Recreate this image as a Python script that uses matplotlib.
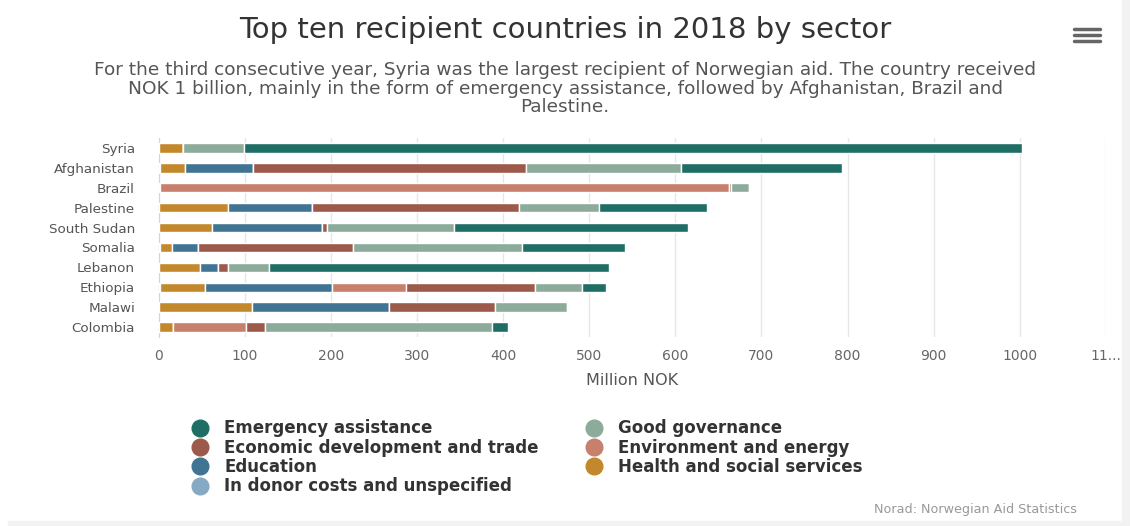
import matplotlib
matplotlib.use("Agg")
import matplotlib.pyplot as plt
from matplotlib.lines import Line2D
from matplotlib.patches import Rectangle

countries = ["Syria", "Afghanistan", "Brazil", "Palestine", "South Sudan",
             "Somalia", "Lebanon", "Ethiopia", "Malawi", "Colombia"]

# million NOK per sector
donor_costs = [0, 2, 2, 0, 0, 2, 0, 2, 0, 0]
health = [28, 29, 0, 80, 62, 14, 48, 52, 108, 17]
education = [0, 79, 0, 98, 128, 30, 21, 147, 160, 0]
environment = [0, 0, 660, 0, 0, 0, 0, 86, 0, 85]
economic = [0, 316, 3, 240, 5, 180, 12, 150, 123, 21]
governance = [71, 180, 20, 93, 148, 196, 47, 55, 83, 264]
emergency = [903, 187, 0, 126, 272, 120, 395, 27, 0, 19]

# drawn from zero outwards
series = [
    ("In donor costs and unspecified", donor_costs, "#86a9c4"),
    ("Health and social services", health, "#c4882c"),
    ("Education", education, "#417493"),
    ("Environment and energy", environment, "#c6806c"),
    ("Economic development and trade", economic, "#9c5a4a"),
    ("Good governance", governance, "#8cab9b"),
    ("Emergency assistance", emergency, "#1f6e66"),
]

fig = plt.figure(figsize=(11.3, 5.26), dpi=100)
ax = fig.add_axes([158.6 / 1130, 1 - 337 / 526, (1106 - 158.6) / 1130, 199 / 526])

y = list(range(len(countries)))
left = [0] * len(countries)
for name, vals, col in series:
    ax.barh(y, vals, left=left, height=0.47, color=col, edgecolor="white",
            linewidth=1, label=name, zorder=3)
    left = [a + b for a, b in zip(left, vals)]

ax.set_xlim(0, 1100)
ax.set_ylim(9.5, -0.5)
ax.set_yticks(y)
ax.set_yticklabels(countries, fontsize=9.7, color="#555555")
ticks = list(range(0, 1101, 100))
ax.set_xticks(ticks)
ax.set_xticklabels([str(t) for t in ticks[:-1]] + ["11..."], fontsize=10, color="#666666")
ax.tick_params(length=0, pad=9)
ax.tick_params(axis="y", pad=17)
ax.set_xlabel("Million NOK", fontsize=11.5, color="#555555", labelpad=7)
ax.grid(axis="x", color="#e6e6e6", linewidth=1, zorder=0)
for s in ["top", "right", "bottom"]:
    ax.spines[s].set_visible(False)
ax.spines["left"].set_color("#ccd6eb")

fig.text(0.5, 1 - 30 / 526, "Top ten recipient countries in 2018 by sector",
         ha="center", va="center", fontsize=21, color="#333333")
sub = ["For the third consecutive year, Syria was the largest recipient of Norwegian aid. The country received",
       "NOK 1 billion, mainly in the form of emergency assistance, followed by Afghanistan, Brazil and",
       "Palestine."]
for i, line in enumerate(sub):
    fig.text(0.5, 1 - (70 + 18.5 * i) / 526, line, ha="center", va="center",
             fontsize=13.3, color="#555555")

# legend, two columns like the original
order = [6, 4, 2, 0, 5, 3, 1]
handles = [Line2D([], [], marker="o", linestyle="", markersize=12,
                  markerfacecolor=series[i][2], markeredgecolor=series[i][2]) for i in order]
labels = [series[i][0] for i in order]
fig.legend(handles, labels, ncol=2, loc="upper left",
           bbox_to_anchor=(175 / 1130, 1 - 411 / 526), frameon=False,
           prop={"size": 12, "weight": "bold"}, labelcolor="#333333",
           handletextpad=0.45, columnspacing=2.3, labelspacing=0.08, borderpad=0)

fig.text(1077 / 1130, 1 - 510 / 526, "Norad: Norwegian Aid Statistics",
         ha="right", va="center", fontsize=9.2, color="#999999")

# menu icon
for yy in [29, 35, 41]:
    fig.add_artist(Line2D([1074 / 1130, 1100 / 1130], [1 - yy / 526] * 2,
                          color="#666666", linewidth=2.5, solid_capstyle="round"))

# grey page edges
fig.add_artist(Rectangle((8 / 1130, 0), 1, 5 / 526, color="#f2f2f2", transform=fig.transFigure))
fig.add_artist(Rectangle((1122 / 1130, 0), 8 / 1130, 1, color="#f2f2f2", transform=fig.transFigure))

fig.savefig("out.png", dpi=100)
